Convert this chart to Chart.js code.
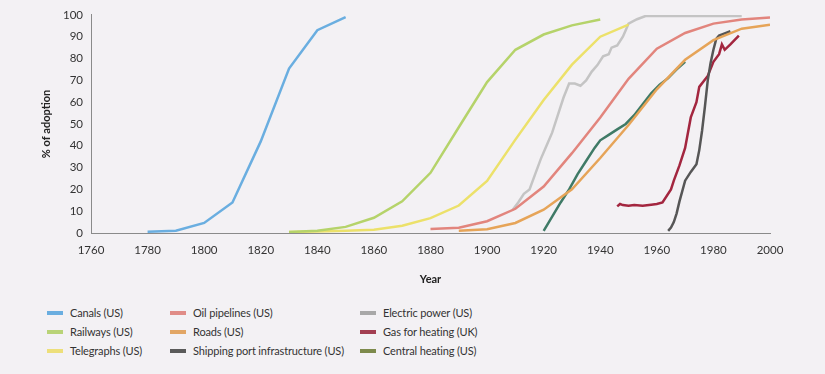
<!DOCTYPE html>
<html>
<head>
<meta charset="utf-8">
<script src="https://cdn.jsdelivr.net/npm/chart.js@4"></script>
<style>
  html, body { margin: 0; padding: 0; background: #f3f1f4; }
  body { width: 825px; height: 374px; position: relative; overflow: hidden; font-family: Lato, "Open Sans", sans-serif; }
  #wrap { position: absolute; left: 0; top: 0; width: 825px; height: 290px; }
  #legend { position: absolute; left: 0; top: 306px; width: 825px; height: 68px; }
  .item { position: absolute; font-size: 11px; letter-spacing: -0.15px; color: #333; white-space: nowrap; line-height: 14px; }
  .item i { display: inline-block; width: 16px; height: 4px; margin-right: 7px; vertical-align: middle; position: relative; top: -1px; }
</style>
</head>
<body>
<div id="wrap"><canvas id="chart"></canvas></div>
<div id="legend"></div>
<script>
// ── axis ticks ──
const yearTicks = [1760, 1780, 1800, 1820, 1840, 1860, 1880, 1900, 1920, 1940, 1960, 1980, 2000];
const pctTicks = [0, 10, 20, 30, 40, 50, 60, 70, 80, 90, 100];

// ── series (year, % of adoption) ──
const canalsYears = [1780, 1790, 1800, 1810, 1820, 1830, 1840, 1850];
const canalsValues = [0.6, 1, 4.6, 14, 42, 75.4, 93, 99];

const railwaysYears = [1830, 1840, 1850, 1860, 1870, 1880, 1890, 1900, 1910, 1920, 1930, 1940];
const railwaysValues = [0.5, 1, 2.8, 7, 14.5, 27.6, 48.5, 69.2, 84, 91, 95.2, 97.9];

const telegraphsYears = [1830, 1840, 1850, 1860, 1870, 1880, 1890, 1900, 1910, 1920, 1930, 1940, 1950];
const telegraphsValues = [0.5, 0.7, 1, 1.5, 3.3, 6.8, 12.6, 23.9, 42.8, 61, 77.2, 90, 95.5];

const oilYears = [1880, 1890, 1900, 1910, 1920, 1930, 1940, 1950, 1960, 1970, 1980, 1990, 2000];
const oilValues = [1.8, 2.4, 5.4, 11.1, 21.3, 36.6, 53, 70.7, 84.5, 91.7, 96, 97.9, 98.8];

const roadsYears = [1890, 1900, 1910, 1920, 1930, 1940, 1950, 1960, 1970, 1980, 1990, 2000];
const roadsValues = [1, 1.7, 4.6, 10.7, 20, 34.4, 49.5, 65.9, 79.4, 88.4, 93.7, 95.5];

const shippingYears = [1964, 1965, 1966, 1967, 1968, 1970, 1972, 1974, 1975, 1976, 1977, 1978, 1979, 1980, 1981, 1982, 1984, 1986];
const shippingValues = [1, 2.5, 5, 9, 14.5, 24, 28, 31.5, 38, 47, 58, 70, 78, 84, 89, 90.5, 91.5, 92.5];

const electricYears = [1909, 1911, 1913, 1915, 1917, 1919, 1921, 1923, 1925, 1927, 1929, 1931, 1933, 1935, 1937, 1939, 1941, 1943, 1944, 1946, 1948, 1949, 1950, 1953, 1956, 1990];
const electricValues = [10.5, 14, 18, 20, 27, 34, 40, 46, 54, 62, 68.5, 68.5, 67.5, 70, 74, 77, 81, 82, 85, 86, 90, 93, 96, 98, 99.5, 99.5];

const gasYears = [1946, 1947, 1948, 1950, 1952, 1955, 1958, 1960, 1962, 1965, 1966, 1968, 1970, 1972, 1974, 1975, 1978, 1980, 1982, 1983, 1984, 1986, 1989];
const gasValues = [12.2, 13.3, 12.8, 12.5, 12.8, 12.5, 13, 13.3, 14, 20, 24, 31, 39, 53, 60, 67, 72, 78.5, 82, 86.5, 84, 86.5, 90.5];

const heatingYears = [1920, 1923, 1926, 1929, 1932, 1935, 1938, 1940, 1943, 1946, 1949, 1952, 1955, 1958, 1961, 1964, 1967, 1970];
const heatingValues = [1, 7.5, 14, 20, 27, 33, 39, 42.5, 45, 47.5, 50, 54, 59, 64, 68, 71, 75, 78.5];

function pts(xs, ys) { return xs.map((x, i) => ({ x, y: ys[i] })); }

const series = [
  { label: 'Canals (US)', data: pts(canalsYears, canalsValues), color: '#6aaee0', key: '#6aaee0', col: 0, row: 0 },
  { label: 'Railways (US)', data: pts(railwaysYears, railwaysValues), color: '#b5d36a', key: '#b9d377', col: 0, row: 1 },
  { label: 'Telegraphs (US)', data: pts(telegraphsYears, telegraphsValues), color: '#ece16a', key: '#eddf7a', col: 0, row: 2 },
  { label: 'Oil pipelines (US)', data: pts(oilYears, oilValues), color: '#e2857d', key: '#e08c87', col: 1, row: 0 },
  { label: 'Roads (US)', data: pts(roadsYears, roadsValues), color: '#e6a458', key: '#e2a665', col: 1, row: 1 },
  { label: 'Shipping port infrastructure (US)', data: pts(shippingYears, shippingValues), color: '#565656', key: '#5a5a5a', col: 1, row: 2 },
  { label: 'Electric power (US)', data: pts(electricYears, electricValues), color: '#c4c4c4', key: '#a8a8a8', col: 2, row: 0 },
  { label: 'Gas for heating (UK)', data: pts(gasYears, gasValues), color: '#a3263f', key: '#a33f52', col: 2, row: 1 },
  { label: 'Central heating (US)', data: pts(heatingYears, heatingValues), color: '#3f7a66', key: '#7d8a4c', col: 2, row: 2 },
];

const ctx = document.getElementById('chart').getContext('2d');
const chart = new Chart(ctx, {
  type: 'line',
  data: {
    datasets: series.map(s => ({
      label: s.label, data: s.data, borderColor: s.color, backgroundColor: s.color,
      borderWidth: 2.5, pointRadius: 0, tension: 0, fill: false
    }))
  },
  options: {
    responsive: true,
    maintainAspectRatio: false,
    animation: false,
    layout: { padding: { top: 2, right: 55, left: 40, bottom: 0 } },
    plugins: { legend: { display: false }, tooltip: { enabled: false } },
    scales: {
      x: {
        type: 'linear', min: 1760, max: 2000,
        afterBuildTicks: s => { s.ticks = yearTicks.map(v => ({ value: v })); },
        grid: { display: false, drawTicks: false },
        border: { color: '#8a8a8a', width: 1 },
        ticks: { color: '#333', font: { family: 'Lato', size: 11.5 }, padding: 10, maxRotation: 0, callback: v => String(v) },
        title: { display: true, text: 'Year', color: '#222', font: { family: 'Lato', size: 11, weight: 'bold' }, padding: { top: 6 } }
      },
      y: {
        min: 0, max: 100,
        afterBuildTicks: s => { s.ticks = pctTicks.map(v => ({ value: v })); },
        afterFit: s => { s.width = 51; },
        grid: { display: false, drawTicks: false },
        border: { color: '#8a8a8a', width: 1 },
        ticks: { color: '#333', font: { family: 'Lato', size: 11.5 }, padding: 8 },
        title: { display: true, text: '% of adoption', color: '#222', font: { family: 'Lato', size: 11, weight: 'bold' }, padding: 0 }
      }
    }
  }
});

// legend in three columns, built from the chart's datasets
const colX = [47, 170, 360];
const rowY = [0, 19, 38];
const legend = document.getElementById('legend');
chart.data.datasets.forEach((ds, i) => {
  const s = series[i];
  const el = document.createElement('div');
  el.className = 'item';
  el.style.left = colX[s.col] + 'px';
  el.style.top = rowY[s.row] + 'px';
  el.innerHTML = `<i style="background:${s.key}"></i>${ds.label}`;
  legend.appendChild(el);
});
</script>
</body>
</html>
